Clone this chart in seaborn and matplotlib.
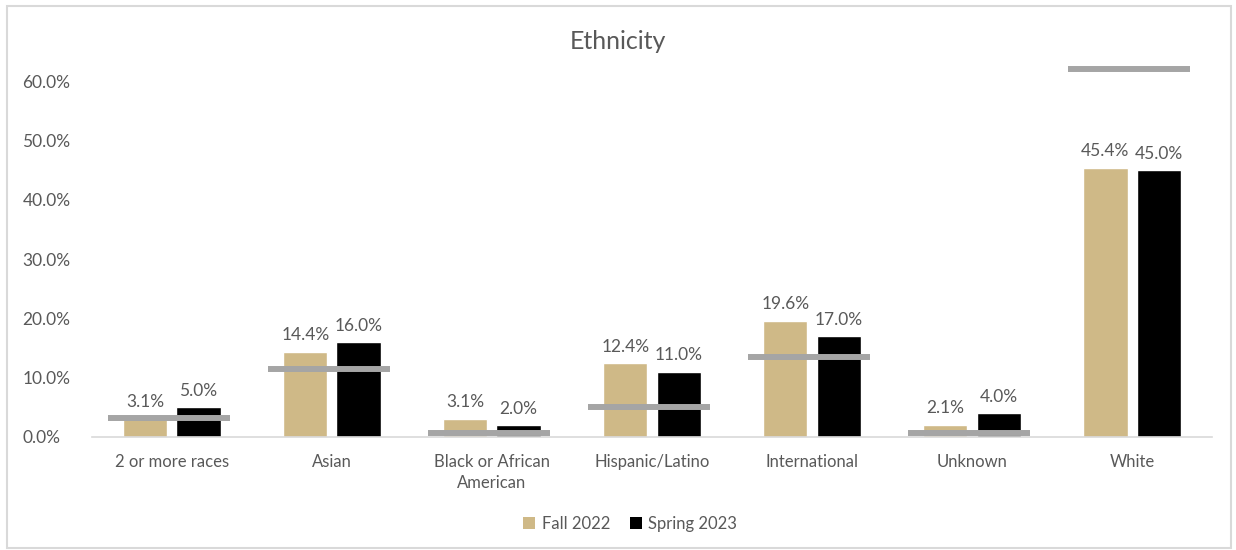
import matplotlib
matplotlib.use("Agg")
import matplotlib.pyplot as plt
import seaborn as sns
import pandas as pd
import numpy as np
from matplotlib.patches import Patch, Rectangle
from matplotlib.ticker import FuncFormatter

categories = ["2 or more races", "Asian", "Black or African\nAmerican", "Hispanic/Latino",
              "International", "Unknown", "White"]
fall_2022 = [3.1, 14.4, 3.1, 12.4, 19.6, 2.1, 45.4]
spring_2023 = [5.0, 16.0, 2.0, 11.0, 17.0, 4.0, 45.0]
benchmark = [3.2, 11.5, 0.7, 5.1, 13.5, 0.7, 62.0]
series_names = ["Fall 2022", "Spring 2023"]

TAN = "#CFB987"
BLACK = "#000000"
GRAY = "#A5A5A5"
TXT = "#595959"

df = pd.DataFrame({
    "Ethnicity": categories * 2,
    "Series": [series_names[0]] * len(categories) + [series_names[1]] * len(categories),
    "Value": fall_2022 + spring_2023,
})

sns.set_theme(style="white")
plt.rcParams["font.family"] = ["Lato", "DejaVu Sans"]

fig = plt.figure(figsize=(12.36, 5.50), dpi=100)
ax = fig.add_axes([0.0744, 0.2055, 0.9062, 0.69])

sns.barplot(data=df, x="Ethnicity", y="Value", hue="Series", order=categories,
            hue_order=series_names, palette=[TAN, BLACK], width=0.664, gap=0.17,
            ax=ax, legend=False, errorbar=None, saturation=1)

# value labels
for cont in ax.containers:
    ax.bar_label(cont, labels=[f"{v:.1f}%" for v in cont.datavalues], padding=6,
                 fontsize=12.5, color=TXT)

# benchmark lines
xs = np.arange(len(categories))
ax.hlines(benchmark, xs - 0.40, xs + 0.36, colors=GRAY, linewidth=4.3, zorder=5)

ax.set_ylim(0, 64)
ax.set_xlim(-0.5, len(categories) - 0.5)
ax.set_yticks(np.arange(0, 61, 10))
ax.yaxis.set_major_formatter(FuncFormatter(lambda v, p: f"{v:.1f}%"))
ax.tick_params(axis="both", length=0, labelcolor=TXT)
ax.tick_params(axis="y", labelsize=12.5, pad=50)
ax.tick_params(axis="x", labelsize=12, pad=12)
ax.set_xlabel("")
ax.set_ylabel("")
for s in ["top", "right", "left"]:
    ax.spines[s].set_visible(False)
ax.spines["bottom"].set_color("#D9D9D9")
ax.spines["bottom"].set_linewidth(1.2)
for lab in ax.get_yticklabels():
    lab.set_horizontalalignment("left")
for lab in ax.get_xticklabels():
    lab.set_linespacing(1.45)

fig.text(0.5, 0.925, "Ethnicity", ha="center", va="center", fontsize=18, color=TXT)

handles = [Patch(facecolor=TAN, edgecolor="none", label=series_names[0]),
           Patch(facecolor=BLACK, edgecolor="none", label=series_names[1])]
fig.legend(handles=handles, loc="center", bbox_to_anchor=(0.51, 0.047), ncol=2,
           frameon=False, fontsize=12, labelcolor=TXT, handlelength=0.7,
           handleheight=0.7, handletextpad=0.4, columnspacing=1.2)

fig.patches.append(Rectangle((0.006, 0.004), 0.99, 0.985, transform=fig.transFigure,
                             fill=False, edgecolor="#D9D9D9", linewidth=1.5))

fig.savefig("out.png", dpi=100, facecolor="white")
